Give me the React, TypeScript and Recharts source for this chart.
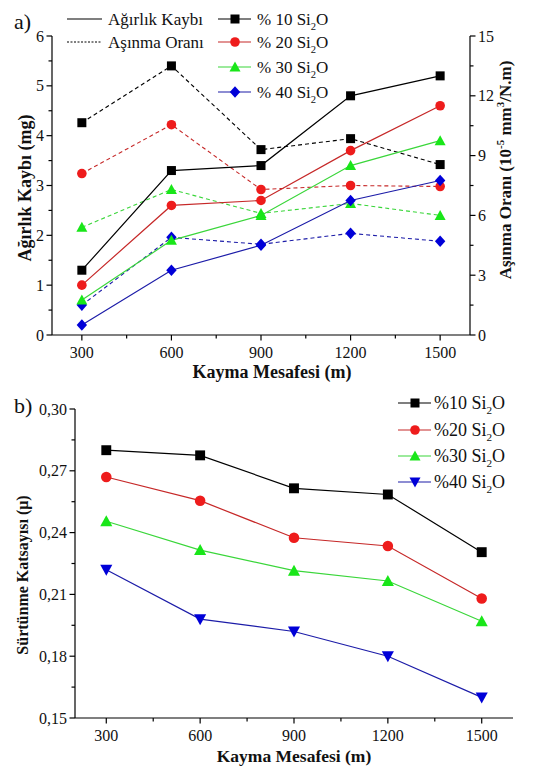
import React from 'react';
import { LineChart, Line, XAxis, YAxis } from 'recharts';

// ---------- data ----------
const distances = [300, 600, 900, 1200, 1500];

const weightLoss10 = [1.3, 3.3, 3.4, 4.8, 5.2];
const weightLoss20 = [1.0, 2.6, 2.7, 3.7, 4.6];
const weightLoss30 = [0.7, 1.9, 2.4, 3.4, 3.9];
const weightLoss40 = [0.2, 1.3, 1.8, 2.7, 3.1];

const wearRate10 = [10.65, 13.5, 9.3, 9.85, 8.55];
const wearRate20 = [8.1, 10.55, 7.3, 7.5, 7.45];
const wearRate30 = [5.4, 7.3, 6.1, 6.6, 6.0];
const wearRate40 = [1.5, 4.9, 4.55, 5.1, 4.7];

const friction10 = [0.28, 0.2775, 0.2615, 0.2585, 0.2305];
const friction20 = [0.267, 0.2555, 0.2375, 0.2335, 0.208];
const friction30 = [0.2455, 0.2315, 0.2215, 0.2165, 0.197];
const friction40 = [0.222, 0.198, 0.192, 0.18, 0.16];

const xTicks = [300, 450, 600, 750, 900, 1050, 1200, 1350, 1500];
const xMajor = [300, 600, 900, 1200, 1500];
const weightTicks = [0, 0.5, 1, 1.5, 2, 2.5, 3, 3.5, 4, 4.5, 5, 5.5, 6];
const weightMajor = [0, 1, 2, 3, 4, 5, 6];
const wearTicks = [0, 1.5, 3, 4.5, 6, 7.5, 9, 10.5, 12, 13.5, 15];
const wearMajor = [0, 3, 6, 9, 12, 15];
const frictionTicks = [0.15, 0.165, 0.18, 0.195, 0.21, 0.225, 0.24, 0.255, 0.27, 0.285, 0.3];
const frictionMajor = [0.15, 0.18, 0.21, 0.24, 0.27, 0.3];

const seriesNamesTop = ['% 10 Si', '% 20 Si', '% 30 Si', '% 40 Si'];
const seriesNamesBottom = ['%10 Si', '%20 Si', '%30 Si', '%40 Si'];
const lineColors = ['#000000', '#c62828', '#3ad63a', '#1c1ca8'];
const markerColors = ['#000000', '#ee1c1c', '#19e619', '#0000d8'];
const topShapes = ['square', 'circle', 'triangle', 'diamond'];
const bottomShapes = ['square', 'circle', 'triangle', 'down'];

const topData = distances.map((d, i) => ({
  d,
  w10: weightLoss10[i], w20: weightLoss20[i], w30: weightLoss30[i], w40: weightLoss40[i],
  r10: wearRate10[i], r20: wearRate20[i], r30: wearRate30[i], r40: wearRate40[i],
}));
const bottomData = distances.map((d, i) => ({
  d, f10: friction10[i], f20: friction20[i], f30: friction30[i], f40: friction40[i],
}));

const FONT = "'Liberation Serif', 'DejaVu Serif', serif";
const fs = (size: number, bold = false): React.CSSProperties => ({
  fontFamily: FONT,
  fontSize: size,
  fontWeight: bold ? 'bold' : 'normal',
});

// ---------- markers ----------
function Marker({ shape, cx, cy, fill, s = 1 }: any) {
  if (cx == null || cy == null || isNaN(cx) || isNaN(cy)) return <g />;
  switch (shape) {
    case 'square':
      return <rect x={cx - 4.5 * s} y={cy - 4.5 * s} width={9 * s} height={9 * s} fill={fill} />;
    case 'circle':
      return <circle cx={cx} cy={cy} r={4.8 * s} fill={fill} />;
    case 'triangle':
      return <polygon points={`${cx},${cy - 5.5 * s} ${cx + 5.5 * s},${cy + 4.5 * s} ${cx - 5.5 * s},${cy + 4.5 * s}`} fill={fill} />;
    case 'down':
      return <polygon points={`${cx},${cy + 5.5 * s} ${cx + 5.5 * s},${cy - 4.5 * s} ${cx - 5.5 * s},${cy - 4.5 * s}`} fill={fill} />;
    case 'diamond':
    default:
      return <polygon points={`${cx},${cy - 5.8 * s} ${cx + 5.2 * s},${cy} ${cx},${cy + 5.8 * s} ${cx - 5.2 * s},${cy}`} fill={fill} />;
  }
}

const makeDot = (shape: string, fill: string, s = 1) => (props: any) => (
  <g key={`${shape}-${props.index}-${props.cx}`}>
    <Marker shape={shape} cx={props.cx} cy={props.cy} fill={fill} s={s} />
  </g>
);

// ---------- ticks ----------
const near = (arr: number[], v: number) => arr.some((a) => Math.abs(a - v) < 1e-6);

const XTick = (props: any) => {
  const { x, y, payload } = props;
  const major = near(xMajor, payload.value);
  return (
    <g>
      <line x1={x} y1={y} x2={x} y2={y + (major ? 5.5 : 3.5)} stroke="#000" strokeWidth={1.2} />
      {major && (
        <text x={x} y={y + 23} textAnchor="middle" style={fs(16)} fill="#111">
          {payload.value}
        </text>
      )}
    </g>
  );
};

const makeLeftTick = (majors: number[], fmt: (v: number) => string) => (props: any) => {
  const { x, y, payload } = props;
  const major = near(majors, payload.value);
  return (
    <g>
      <line x1={x - (major ? 5.5 : 3.5)} y1={y} x2={x} y2={y} stroke="#000" strokeWidth={1.2} />
      {major && (
        <text x={x - 8} y={y + 5.5} textAnchor="end" style={fs(16)} fill="#111">
          {fmt(payload.value)}
        </text>
      )}
    </g>
  );
};

const RightTick = (props: any) => {
  const { x, y, payload } = props;
  const major = near(wearMajor, payload.value);
  return (
    <g>
      <line x1={x} y1={y} x2={x + (major ? 5.5 : 3.5)} y2={y} stroke="#000" strokeWidth={1.2} />
      {major && (
        <text x={x + 8} y={y + 5.5} textAnchor="start" style={fs(16)} fill="#111">
          {payload.value}
        </text>
      )}
    </g>
  );
};

const WeightTick = makeLeftTick(weightMajor, (v) => String(v));
const FrictionTick = makeLeftTick(frictionMajor, (v) => v.toFixed(2).replace('.', ','));

const axisLine = { stroke: '#000', strokeWidth: 1.2 };

// ---------- overlay labels ----------
const SiO = ({ x, y, label, size }: any) => (
  <text x={x} y={y} style={fs(size)} fill="#111">
    {label}
    <tspan style={{ fontSize: size * 0.62 }} dy={size * 0.28}>2</tspan>
    <tspan dy={-size * 0.28}>O</tspan>
  </text>
);

const topLegendY = [19, 42, 67, 92];
const bottomLegendY = [403, 430, 456, 482];

function Overlay() {
  return (
    <svg width={546} height={768} style={{ position: 'absolute', left: 0, top: 0, pointerEvents: 'none' }}>
      <text x={14} y={29} style={fs(22)} fill="#111">a)</text>
      <text x={14} y={413} style={fs(22)} fill="#111">b)</text>

      {/* top legend: line types */}
      <line x1={67} y1={19} x2={102} y2={19} stroke="#000" strokeWidth={1.2} />
      <text x={108} y={25} style={fs(17)} fill="#111">Ağırlık Kaybı</text>
      <line x1={67} y1={42} x2={102} y2={42} stroke="#000" strokeWidth={1} strokeDasharray="2 1.5" />
      <text x={108} y={48} style={fs(17)} fill="#111">Aşınma Oranı</text>

      {/* top legend: series */}
      {topLegendY.map((y, i) => (
        <g key={`tl${i}`}>
          <line x1={218} y1={y} x2={251} y2={y} stroke={lineColors[i]} strokeWidth={1.2} />
          <Marker shape={topShapes[i]} cx={235} cy={y} fill={markerColors[i]} />
          <SiO x={257} y={y + 6} label={seriesNamesTop[i]} size={17} />
        </g>
      ))}

      {/* bottom legend */}
      {bottomLegendY.map((y, i) => (
        <g key={`bl${i}`}>
          <line x1={398} y1={y} x2={431} y2={y} stroke={lineColors[i]} strokeWidth={1.2} />
          <Marker shape={bottomShapes[i]} cx={415} cy={y} fill={markerColors[i]} />
          <SiO x={434} y={y + 6} label={seriesNamesBottom[i]} size={18} />
        </g>
      ))}

      {/* axis titles */}
      <text x={272} y={378} textAnchor="middle" style={fs(18, true)} fill="#111">
        Kayma Mesafesi (m)
      </text>
      <text x={294} y={762} textAnchor="middle" style={fs(17.5, true)} fill="#111">
        Kayma Mesafesi (m)
      </text>
      <text x={0} y={0} transform="translate(31,188) rotate(-90)" textAnchor="middle" style={fs(18, true)} fill="#111">
        Ağırlık Kaybı (mg)
      </text>
      <text x={0} y={0} transform="translate(511,170) rotate(-90)" textAnchor="middle" style={fs(17, true)} fill="#111">
        Aşınma Oranı (10
        <tspan style={{ fontSize: 11 }} dy={-7}>-5</tspan>
        <tspan dy={7}> mm</tspan>
        <tspan style={{ fontSize: 11 }} dy={-7}>3</tspan>
        <tspan dy={7}>/N.m)</tspan>
      </text>
      <text x={0} y={0} transform="translate(28,575) rotate(-90)" textAnchor="middle" style={fs(16, true)} fill="#111">
        Sürtünme Katsayısı (μ)
      </text>
    </svg>
  );
}

const weightKeys = ['w10', 'w20', 'w30', 'w40'];
const wearKeys = ['r10', 'r20', 'r30', 'r40'];
const frictionKeys = ['f10', 'f20', 'f30', 'f40'];

export default function App() {
  return (
    <div style={{ position: 'absolute', left: 0, top: 0, width: 546, height: 768, background: '#fff' }}>
      <div style={{ position: 'absolute', left: 0, top: 0 }}>
        <LineChart width={546} height={380} data={topData} margin={{ top: 36, right: 36, bottom: 15, left: 12 }}>
          <XAxis
            dataKey="d"
            type="number"
            domain={[200, 1600]}
            ticks={xTicks}
            interval={0}
            tickSize={0}
            tickMargin={0}
            tick={XTick}
            tickLine={false}
            axisLine={axisLine}
            height={30}
          />
          <YAxis
            yAxisId="left"
            orientation="left"
            type="number"
            domain={[0, 6]}
            ticks={weightTicks}
            interval={0}
            tickSize={0}
            tickMargin={0}
            tick={WeightTick}
            tickLine={false}
            axisLine={axisLine}
            width={40}
          />
          <YAxis
            yAxisId="right"
            orientation="right"
            type="number"
            domain={[0, 15]}
            ticks={wearTicks}
            interval={0}
            tickSize={0}
            tickMargin={0}
            tick={RightTick}
            tickLine={false}
            axisLine={axisLine}
            width={40}
          />
          {wearKeys.map((k, i) => (
            <Line
              key={k}
              yAxisId="right"
              type="linear"
              dataKey={k}
              stroke={lineColors[i]}
              strokeWidth={1.1}
              strokeDasharray="4 3"
              dot={makeDot(topShapes[i], markerColors[i])}
              activeDot={false}
              isAnimationActive={false}
            />
          ))}
          {weightKeys.map((k, i) => (
            <Line
              key={k}
              yAxisId="left"
              type="linear"
              dataKey={k}
              stroke={lineColors[i]}
              strokeWidth={1.2}
              dot={makeDot(topShapes[i], markerColors[i])}
              activeDot={false}
              isAnimationActive={false}
            />
          ))}
        </LineChart>
      </div>
      <div style={{ position: 'absolute', left: 0, top: 380 }}>
        <LineChart width={546} height={388} data={bottomData} margin={{ top: 29, right: 33, bottom: 20, left: 25 }}>
          <XAxis
            dataKey="d"
            type="number"
            domain={[200, 1600]}
            ticks={xTicks}
            interval={0}
            tickSize={0}
            tickMargin={0}
            tick={XTick}
            tickLine={false}
            axisLine={axisLine}
            height={30}
          />
          <YAxis
            type="number"
            domain={[0.15, 0.3]}
            ticks={frictionTicks}
            interval={0}
            tickSize={0}
            tickMargin={0}
            tick={FrictionTick}
            tickLine={false}
            axisLine={axisLine}
            width={50}
          />
          {frictionKeys.map((k, i) => (
            <Line
              key={k}
              type="linear"
              dataKey={k}
              stroke={lineColors[i]}
              strokeWidth={1.2}
              dot={makeDot(bottomShapes[i], markerColors[i], 1.1)}
              activeDot={false}
              isAnimationActive={false}
            />
          ))}
        </LineChart>
      </div>
      <Overlay />
    </div>
  );
}
